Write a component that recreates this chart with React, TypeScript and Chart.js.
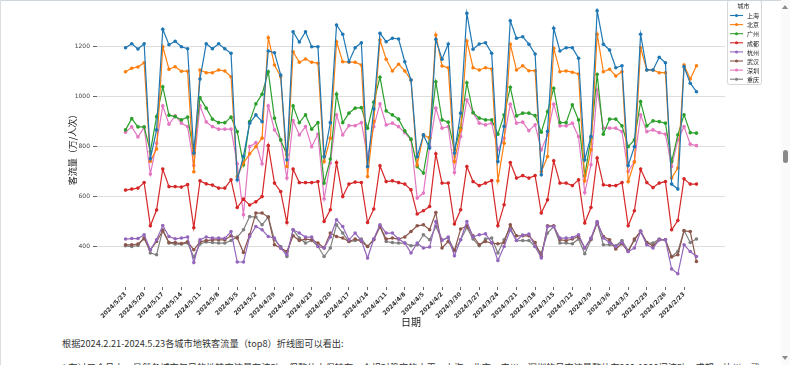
import React, { useEffect, useRef } from "react";
import { Chart, registerables } from "chart.js";

Chart.register(...registerables);

// x categories: daily dates, newest (left) to oldest (right)
const dates = [
  "2024/5/23","2024/5/22","2024/5/21","2024/5/20","2024/5/19","2024/5/18","2024/5/17","2024/5/16","2024/5/15","2024/5/14",
  "2024/5/13","2024/5/12","2024/5/11","2024/5/10","2024/5/9","2024/5/8","2024/5/7","2024/5/6","2024/5/5","2024/5/4",
  "2024/5/3","2024/5/2","2024/5/1","2024/4/30","2024/4/29","2024/4/28","2024/4/27","2024/4/26","2024/4/25","2024/4/24",
  "2024/4/23","2024/4/22","2024/4/21","2024/4/20","2024/4/19","2024/4/18","2024/4/17","2024/4/16","2024/4/15","2024/4/14",
  "2024/4/13","2024/4/12","2024/4/11","2024/4/10","2024/4/9","2024/4/8","2024/4/7","2024/4/6","2024/4/5","2024/4/4",
  "2024/4/3","2024/4/2","2024/4/1","2024/3/31","2024/3/30","2024/3/29","2024/3/28","2024/3/27","2024/3/26","2024/3/25",
  "2024/3/24","2024/3/23","2024/3/22","2024/3/21","2024/3/20","2024/3/19","2024/3/18","2024/3/17","2024/3/16","2024/3/15",
  "2024/3/14","2024/3/13","2024/3/12","2024/3/11","2024/3/10","2024/3/9","2024/3/8","2024/3/7","2024/3/6","2024/3/5",
  "2024/3/4","2024/3/3","2024/3/2","2024/3/1","2024/2/29","2024/2/28","2024/2/27","2024/2/26","2024/2/25","2024/2/24",
  "2024/2/23","2024/2/22","2024/2/21",
];

const cities = ["上海", "北京", "广州", "成都", "杭州", "武汉", "深圳", "重庆"];

const shanghai = [
  1195,1211,1190,1211,751,866,1269,1207,1221,1199,1191,773,1070,1211,1191,1211,
  1191,1173,666,760,893,926,899,1182,1175,1086,746,1259,1218,1259,1199,1199,
  759,895,1286,1249,1139,1195,1215,719,950,1253,1219,1233,1230,1139,1066,759,
  846,793,1229,1149,1210,773,933,1333,1189,1210,1215,1173,739,880,1303,1233,
  1239,1209,1170,686,860,1273,1182,1195,1195,1153,746,840,1343,1209,1186,1115,1123,
  723,799,1249,1106,1106,1157,1135,649,629,1119,1053,1019,
];
const beijing = [
  1099,1113,1118,1135,740,789,1199,1109,1119,1101,1101,698,1106,1095,1095,1106,
  1102,1079,679,733,770,799,833,1235,1126,1079,719,1179,1137,1150,1137,1133,
  739,833,1219,1139,1137,1137,1126,679,900,1226,1149,1102,1129,1102,1066,726,
  846,833,1246,1122,1115,739,866,1222,1115,1106,1115,1110,662,813,1209,1106,
  1123,1103,1103,699,759,1193,1099,1102,1097,1090,662,786,1249,1099,1109,1082,1099,
  659,737,1195,1106,1106,1095,1095,673,713,1126,1070,1123,
];
const guangzhou = [
  866,911,878,878,779,919,1039,925,919,906,917,773,995,953,909,895,
  895,917,859,726,899,970,1009,1099,913,826,766,962,895,926,869,895,
  653,749,1009,895,933,953,955,873,977,1077,942,926,909,862,829,719,
  693,835,1059,906,897,786,873,1055,935,913,906,906,849,926,1037,922,
  933,933,923,857,939,1033,895,895,966,906,682,833,1089,849,909,909,882,
  799,826,979,882,902,899,893,739,846,926,855,853,
];
const chengdu = [
  625,629,633,655,482,545,709,639,639,637,647,474,662,650,645,633,
  633,666,555,589,565,578,599,803,653,619,495,709,655,655,655,659,
  499,546,735,599,649,657,655,495,549,722,659,662,655,649,626,529,
  542,559,770,653,653,489,546,719,659,643,653,663,482,566,735,673,
  683,673,683,533,586,742,653,653,643,666,493,555,753,646,643,643,655,
  482,542,709,655,635,653,659,466,503,670,649,649,
];
const hangzhou = [
  429,431,431,446,386,426,483,439,430,433,437,335,426,437,433,433,
  432,459,337,337,439,479,466,439,433,393,366,466,453,437,437,399,
  393,437,506,479,426,453,423,353,429,486,453,453,429,413,373,413,
  393,397,499,423,437,362,426,499,437,446,450,415,343,399,466,423,
  445,449,399,353,479,479,433,433,435,446,393,433,499,433,415,399,415,
  379,393,459,406,393,426,426,309,290,406,379,359,
];
const wuhan = [
  406,406,409,430,386,419,462,415,415,411,418,386,418,423,426,426,
  426,442,433,375,446,533,533,517,406,393,379,442,423,429,426,413,
  393,453,439,433,419,429,419,399,426,479,429,433,429,437,459,482,
  486,466,535,393,419,383,469,482,442,406,419,413,410,415,486,442,
  442,442,415,359,482,482,426,423,429,439,393,429,493,439,426,389,410,
  379,429,459,415,402,426,426,357,366,462,459,339,
];
const shenzhen = [
  857,878,838,875,689,813,962,889,922,893,879,723,962,898,879,869,
  869,869,730,526,799,815,730,962,866,826,673,903,846,879,799,849,
  590,733,926,846,883,883,895,759,879,970,886,893,879,855,826,593,
  613,800,953,873,879,695,839,986,935,893,886,893,786,833,969,893,
  897,863,886,786,846,969,882,882,893,839,615,726,1026,873,873,873,859,
  699,739,926,859,866,855,849,719,826,879,809,803,
];
const chongqing = [
  402,399,403,435,373,366,466,413,409,409,413,357,409,417,415,413,
  413,423,437,466,519,517,486,517,426,399,359,466,433,413,423,400,
  359,393,486,453,419,423,429,399,429,479,419,415,413,413,402,406,
  446,426,479,426,433,383,426,475,429,402,429,433,373,426,473,423,
  423,423,399,373,453,479,413,413,410,429,370,426,495,406,406,402,423,
  383,423,462,413,413,429,426,359,379,463,415,429,
];

const yTicks = [400, 600, 800, 1000, 1200];
const colors = ["#1f77b4", "#ff7f0e", "#2ca02c", "#d62728", "#9467bd", "#8c564b", "#e377c2", "#7f7f7f"];

const CJK = '"Noto Sans CJK SC", "Noto Sans", sans-serif';

export default function App() {
  const ref = useRef<HTMLCanvasElement>(null);

  useEffect(() => {
    document.body.style.margin = "0";
    const series = [shanghai, beijing, guangzhou, chengdu, hangzhou, wuhan, shenzhen, chongqing];
    const datasets = cities.map((c, k) => ({
      label: c,
      data: series[k].map((v, i) => ({ x: i, y: v })),
      borderColor: colors[k],
      backgroundColor: colors[k],
      borderWidth: 1.2,
      pointRadius: 1.8,
      pointBorderWidth: 0,
      pointHoverRadius: 1.8,
      tension: 0,
    }));

    const boxLegend = {
      id: "boxLegend",
      afterDraw(chart: any) {
        const ctx = chart.ctx as CanvasRenderingContext2D;
        const x0 = 727.5, y0 = 0.5, w = 34, h = 84;
        ctx.save();
        ctx.fillStyle = "rgba(255,255,255,0.9)";
        ctx.strokeStyle = "#d6d6d6";
        ctx.lineWidth = 1;
        ctx.beginPath();
        (ctx as any).roundRect(x0, y0, w, h, 2);
        ctx.fill();
        ctx.stroke();
        ctx.fillStyle = "#222";
        ctx.font = `6px ${CJK}`;
        ctx.textAlign = "center";
        ctx.textBaseline = "middle";
        ctx.fillText("城市", x0 + w / 2 - 1, 6);
        ctx.textAlign = "left";
        chart.data.datasets.forEach((ds: any, k: number) => {
          const y = 15.5 + k * 9.1;
          ctx.strokeStyle = ds.borderColor;
          ctx.lineWidth = 1.1;
          ctx.beginPath();
          ctx.moveTo(730, y);
          ctx.lineTo(743, y);
          ctx.stroke();
          ctx.fillStyle = ds.borderColor;
          ctx.beginPath();
          ctx.arc(736.5, y, 1.5, 0, Math.PI * 2);
          ctx.fill();
          ctx.fillStyle = "#222";
          ctx.fillText(ds.label, 747, y + 0.5);
        });
        ctx.restore();
      },
    };

    const chart = new Chart(ref.current!, {
      type: "line",
      data: { datasets },
      options: {
        responsive: false,
        animation: false,
        events: [],
        layout: { padding: { left: 0, right: 55, top: 8, bottom: 0 } },
        plugins: { legend: { display: false }, tooltip: { enabled: false } },
        scales: {
          x: {
            type: "linear",
            min: -4.6,
            max: 96.6,
            afterBuildTicks: (s: any) => {
              s.ticks = dates.map((_, i) => i).filter((i) => i % 3 === 0).map((i) => ({ value: i }));
            },
            afterFit: (s: any) => {
              s.height = 43;
            },
            ticks: {
              autoSkip: false,
              maxRotation: 45,
              minRotation: 45,
              padding: 1,
              color: "#333",
              font: { size: 6, weight: "bold", family: '"DejaVu Sans", sans-serif' },
              callback: (v: any) => dates[Math.round(v)] ?? "",
            },
            grid: { drawOnChartArea: false, drawTicks: true, tickLength: 3, color: "#444", lineWidth: 0.8 },
            border: { display: false },
            title: {
              display: true,
              text: "日期",
              color: "#222",
              font: { size: 10, family: CJK },
              padding: { top: 0, bottom: 2 },
            },
          },
          y: {
            min: 237,
            max: 1354,
            afterBuildTicks: (s: any) => {
              s.ticks = yTicks.map((v) => ({ value: v }));
            },
            afterFit: (s: any) => {
              s.width = 97;
            },
            ticks: {
              padding: 3,
              color: "#444",
              font: { size: 6, family: '"DejaVu Sans", sans-serif' },
              callback: (v: any) => String(v),
            },
            grid: { color: "#dddddd", lineWidth: 1, drawTicks: true, tickLength: 4, tickColor: "#666" },
            border: { display: false },
            title: {
              display: true,
              text: "客流量（万/人次）",
              color: "#222",
              font: { size: 9, family: CJK },
              padding: { top: 67, bottom: 0 },
            },
          },
        },
      } as any,
      plugins: [boxLegend],
    });
    return () => chart.destroy();
  }, []);

  return (
    <div
      style={{
        position: "absolute",
        left: 0,
        top: 0,
        width: 790,
        height: 365,
        overflow: "hidden",
        background: "#fff",
        fontFamily: CJK,
      }}
    >
      <canvas ref={ref} width={780} height={330} style={{ position: "absolute", left: 0, top: 0 }} />
      <div style={{ position: "absolute", left: 0, top: 0, width: 781, height: 1, background: "#cfd6dc" }} />
      <div style={{ position: "absolute", left: 0, top: 0, width: 1, height: 365, background: "#d9dee2" }} />
      <div
        style={{
          position: "absolute",
          left: 62,
          top: 337,
          fontSize: 9.2,
          color: "#333",
          whiteSpace: "nowrap",
          lineHeight: "12px",
        }}
      >
        根据2024.2.21-2024.5.23各城市地铁客流量（top8）折线图可以看出:
      </div>
      <div
        style={{
          position: "absolute",
          left: 62,
          top: 361,
          fontSize: 9.2,
          color: "#333",
          whiteSpace: "nowrap",
          lineHeight: "12px",
        }}
      >
        * 在过三个月中，虽然各城市每日的地铁客流量有波动，但整体上保持在一个相对稳定的水平。上海、北京、广州、深圳的日客流量整体在900-1200间波动，成都、杭州、武
      </div>
      <div style={{ position: "absolute", left: 781, top: 0, width: 9, height: 365, background: "#fafafa" }} />
      <div
        style={{
          position: "absolute",
          left: 782,
          top: 5,
          width: 0,
          height: 0,
          borderLeft: "3px solid transparent",
          borderRight: "3px solid transparent",
          borderBottom: "4px solid #8a8a8a",
        }}
      />
      <div
        style={{
          position: "absolute",
          left: 782,
          top: 356,
          width: 0,
          height: 0,
          borderLeft: "3px solid transparent",
          borderRight: "3px solid transparent",
          borderTop: "4px solid #8a8a8a",
        }}
      />
      <div
        style={{
          position: "absolute",
          left: 783,
          top: 150,
          width: 5,
          height: 13,
          borderRadius: 3,
          background: "#8a8a8a",
        }}
      />
    </div>
  );
}
